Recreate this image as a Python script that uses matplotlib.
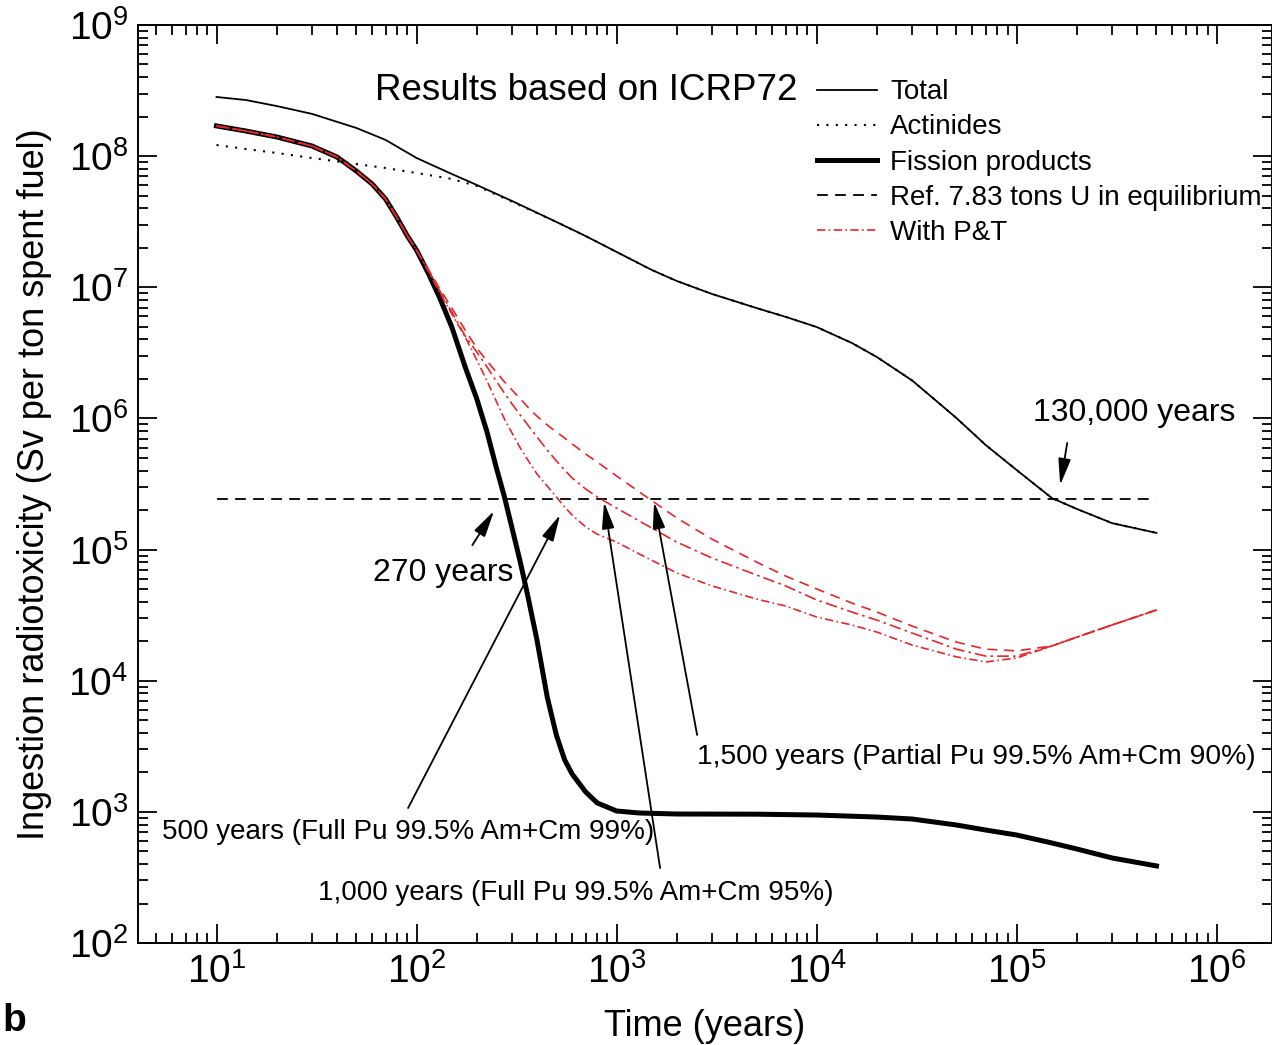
import matplotlib.pyplot as plt
import numpy as np

plt.rcParams['font.family'] = ['Liberation Sans', 'DejaVu Sans']
plt.rcParams['mathtext.fontset'] = 'custom'
plt.rcParams['mathtext.rm'] = 'Liberation Sans'
plt.rcParams['mathtext.it'] = 'Liberation Sans'

# Total radiotoxicity (Sv per ton spent fuel)
t_total = [10, 14, 20, 30, 50, 70, 100, 150, 200, 300, 500, 700, 1000, 1500, 2000, 3000, 5000, 7000,
           1e4, 1.5e4, 2e4, 3e4, 5e4, 7e4, 1e5, 1.5e5, 2e5, 3e5, 5e5]
v_total = [2.825e8, 2.68e8, 2.41e8, 2.10e8, 1.64e8, 1.33e8, 9.68e7, 7.31e7, 6.03e7, 4.55e7, 3.15e7,
           2.46e7, 1.86e7, 1.355e7, 1.117e7, 8.89e6, 6.95e6, 5.95e6, 4.98e6, 3.76e6, 2.94e6, 1.95e6,
           1.007e6, 6.27e5, 4.04e5, 2.47e5, 2.04e5, 1.59e5, 1.34e5]

# Actinides (merges with the total after ~200 years)
t_act = [10, 14, 20, 30, 50, 70, 100, 150, 200, 300, 500, 700, 1000, 1500, 2000, 3000, 5000, 7000,
         1e4, 1.5e4, 2e4, 3e4, 5e4, 7e4, 1e5, 1.5e5, 2e5, 3e5, 5e5]
v_act = [1.216e8, 1.134e8, 1.057e8, 9.68e7, 8.71e7, 8.12e7, 7.44e7, 6.70e7, 5.92e7, 4.5e7, 3.15e7,
         2.46e7, 1.86e7, 1.355e7, 1.117e7, 8.89e6, 6.95e6, 5.95e6, 4.98e6, 3.76e6, 2.94e6, 1.95e6,
         1.007e6, 6.27e5, 4.04e5, 2.47e5, 2.04e5, 1.59e5, 1.34e5]

# Fission products
t_fp = [10, 14, 20, 30, 40, 50, 60, 70, 80, 90, 100, 115, 130, 150, 175, 200, 225, 250, 275, 300,
        330, 360, 400, 450, 500, 550, 600, 700, 800, 1000, 1300, 2000, 5000, 1e4, 2e4, 3e4, 5e4, 7e4,
        1e5, 1.5e5, 2e5, 3e5, 5e5]
v_fp = [1.70e8, 1.555e8, 1.40e8, 1.195e8, 9.85e7, 7.70e7, 6.13e7, 4.71e7, 3.38e7, 2.46e7, 1.92e7,
        1.26e7, 8.43e6, 4.98e6, 2.47e6, 1.41e6, 7.88e5, 4.26e5, 2.52e5, 1.46e5, 8.04e4, 4.42e4, 2.04e4,
        7.51e3, 3.85e3, 2.49e3, 1.94e3, 1.42e3, 1.17e3, 1.015e3, 980, 963, 960, 946, 913, 882, 794,
        727, 666, 579, 521, 445, 387]

# Reference: 7.83 tons U in equilibrium
t_ref = [10, 5e5]
v_ref = [2.43e5, 2.43e5]

# With P&T (same as fission products up to ~100 years)
t_pt = [10, 14, 20, 30, 40, 50, 60, 70, 80, 90, 100, 115, 130, 150, 175, 200, 225, 250, 275, 300,
        330, 360, 400, 450, 500, 550, 600, 700, 800, 1000, 1300, 2000, 3000, 5000, 7000, 1e4, 1.5e4,
        2e4, 3e4, 5e4, 7e4, 1e5, 1.5e5, 2e5, 3e5, 5e5]
v_early = [1.70e8, 1.555e8, 1.40e8, 1.195e8, 9.85e7, 7.70e7, 6.13e7, 4.71e7, 3.38e7, 2.46e7]
# 500 years (Full Pu 99.5% Am+Cm 99%)
v_pt500 = v_early + [1.92e7, 1.31e7, 9.20e6, 6.26e6, 4.18e6, 2.79e6, 1.93e6, 1.36e6, 9.90e5, 7.74e5,
                     5.95e5, 4.82e5, 3.77e5, 3.05e5, 2.52e5, 2.11e5, 1.83e5, 1.49e5, 1.31e5, 1.14e5,
                     9.25e4, 6.63e4, 5.28e4, 4.20e4, 3.71e4, 3.06e4, 2.66e4, 2.35e4, 1.87e4, 1.52e4,
                     1.39e4, 1.49e4, 1.84e4, 2.15e4, 2.66e4, 3.46e4]
# 1,000 years (Full Pu 99.5% Am+Cm 95%)
v_pt1000 = v_early + [1.92e7, 1.33e7, 9.53e6, 6.48e6, 4.25e6, 3.21e6, 2.47e6, 1.93e6, 1.56e6, 1.29e6,
                      1.06e6, 8.91e5, 7.22e5, 5.74e5, 4.74e5, 4.04e5, 3.51e5, 2.90e5, 2.52e5, 2.07e5,
                      1.65e5, 1.14e5, 8.62e4, 6.40e4, 5.28e4, 4.13e4, 3.34e4, 2.90e4, 2.31e4, 1.74e4,
                      1.54e4, 1.54e4, 1.84e4, 2.15e4, 2.66e4, 3.46e4]
# 1,500 years (Partial Pu 99.5% Am+Cm 90%)
v_pt1500 = v_early + [1.92e7, 1.355e7, 9.87e6, 6.95e6, 4.72e6, 3.44e6, 2.74e6, 2.26e6, 1.90e6, 1.65e6,
                      1.41e6, 1.22e6, 1.04e6, 8.91e5, 7.88e5, 7.09e5, 6.38e5, 5.35e5, 4.65e5, 3.64e5,
                      2.75e5, 1.74e5, 1.20e5, 8.04e4, 6.28e4, 5.01e4, 3.91e4, 3.34e4, 2.61e4, 1.97e4,
                      1.74e4, 1.69e4, 1.84e4, 2.15e4, 2.66e4, 3.46e4]

red = '#e8262a'

fig = plt.figure(figsize=(12.72, 10.45), dpi=100)
ax = fig.add_axes([138 / 1272, 102 / 1045, 1134 / 1272, 918 / 1045])

l_tot, = ax.plot(t_total, v_total, color='black', lw=1.3, label='Total')
l_act, = ax.plot(t_act, v_act, color='black', lw=1.5, ls=(0, (1, 3.5)), label='Actinides')
l_fp, = ax.plot(t_fp, v_fp, color='black', lw=3.6, label='Fission products')
l_ref, = ax.plot(t_ref, v_ref, color='black', lw=1.3, ls=(0, (6, 4)),
                 label='Ref. 7.83 tons U in equilibrium')
l_pt, = ax.plot(t_pt, v_pt500, color=red, lw=1.2, ls=(0, (5, 2, 1, 2)), label='With P&T')
ax.plot(t_pt, v_pt1000, color=red, lw=1.2, ls=(0, (7, 2.5, 1.5, 2.5)))
ax.plot(t_pt, v_pt1500, color=red, lw=1.2, ls=(0, (6, 4)))

ax.set_xscale('log')
ax.set_yscale('log')
ax.set_xlim(4.05, 1.89e6)
ax.set_ylim(1e2, 1e9)

ax.tick_params(which='both', direction='in', top=True, right=True, width=1.3)
ax.tick_params(which='major', length=14, labelsize=28, pad=7)
ax.tick_params(which='minor', length=7)
for s in ax.spines.values():
    s.set_linewidth(1.4)

ax.set_xlabel('Time (years)', fontsize=26, labelpad=13)
ax.set_ylabel('Ingestion radiotoxicity (Sv per ton spent fuel)', fontsize=26, labelpad=12)

ax.legend(handles=[l_tot, l_act, l_fp, l_ref, l_pt], loc='upper left',
          bbox_to_anchor=(0.589, 0.953), frameon=False, fontsize=20,
          handlelength=2.16, handletextpad=0.47, labelspacing=0.33, borderaxespad=0,
          borderpad=0.4)
ax.text(0.209, 0.929, 'Results based on ICRP72', transform=ax.transAxes,
        fontsize=26.5, va='center', ha='left')

arrow = dict(arrowstyle='-|>,head_length=0.85,head_width=0.2', color='black', lw=1.3,
             mutation_scale=19, shrinkA=0, shrinkB=0)
ax.annotate('', xy=(244, 1.97e5), xytext=(190, 1.08e5), arrowprops=arrow)
ax.annotate('', xy=(522, 1.84e5), xytext=(90.7, 1.07e3), arrowprops=arrow)
ax.annotate('', xy=(866, 2.3e5), xytext=(1650, 373), arrowprops=arrow)
ax.annotate('', xy=(1540, 2.3e5), xytext=(2527, 3.86e3), arrowprops=arrow)
ax.annotate('', xy=(1.65e5, 3.1e5), xytext=(1.79e5, 6.5e5), arrowprops=arrow)

ax.text(0.207, 0.403, '270 years', transform=ax.transAxes, fontsize=23, va='center')
ax.text(0.789, 0.577, '130,000 years', transform=ax.transAxes, fontsize=23, va='center')
ax.text(0.021, 0.121, '500 years (Full Pu 99.5% Am+Cm 99%)', transform=ax.transAxes,
        fontsize=20, va='center')
ax.text(0.159, 0.0545, '1,000 years (Full Pu 99.5% Am+Cm 95%)', transform=ax.transAxes,
        fontsize=20, va='center')
ax.text(0.493, 0.2026, '1,500 years (Partial Pu 99.5% Am+Cm 90%)', transform=ax.transAxes,
        fontsize=20.3, va='center')

fig.text(0.002, 0.023, 'b', fontsize=28, fontweight='bold', ha='left', va='center')

fig.savefig('out.png', dpi=100)
